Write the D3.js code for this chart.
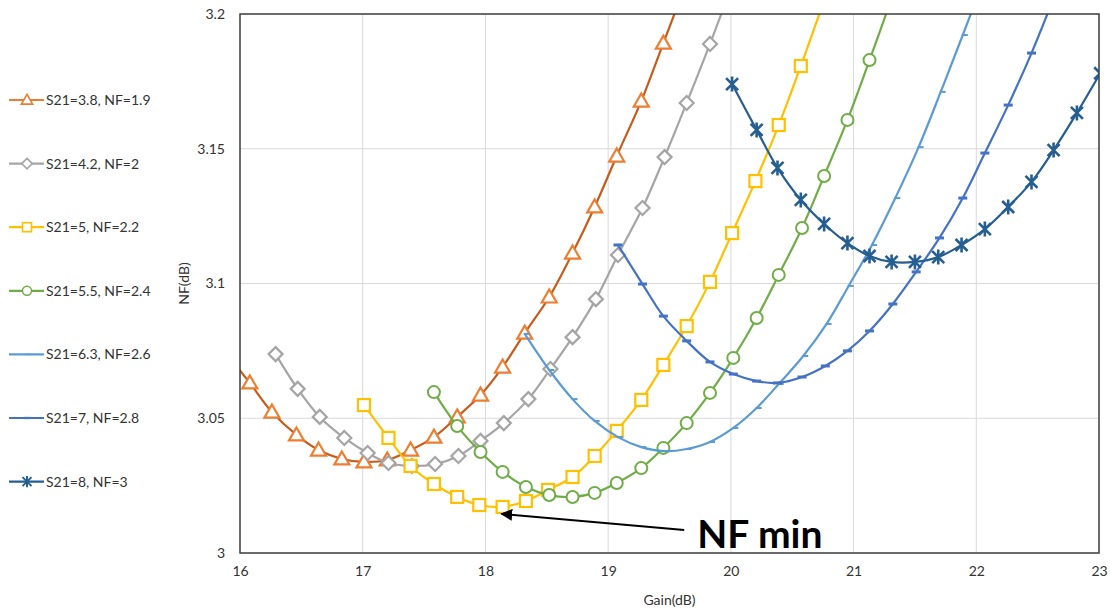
<!DOCTYPE html>
<html>
<head>
<meta charset="utf-8">
<script src="https://cdn.jsdelivr.net/npm/d3@7"></script>
<style>
  body { margin: 0; background: #fff; }
  svg { font-family: Lato, "Open Sans", sans-serif; }
</style>
</head>
<body>
<svg id="chart" width="1110" height="613"></svg>
<script>
// values
const seriesNames = ['S21=3.8, NF=1.9', 'S21=4.2, NF=2', 'S21=5, NF=2.2', 'S21=5.5, NF=2.4',
                     'S21=6.3, NF=2.6', 'S21=7, NF=2.8', 'S21=8, NF=3'];

const gain1 = [15.89, 16.08, 16.26, 16.46, 16.64, 16.83, 17.01, 17.20, 17.39, 17.58, 17.77, 17.96, 18.14, 18.32, 18.52, 18.71, 18.89, 19.07, 19.27, 19.45, 19.64];
const nf1   = [3.074, 3.0631, 3.0523, 3.0438, 3.0382, 3.0349, 3.0338, 3.0345, 3.0382, 3.0430, 3.0505, 3.0586, 3.0690, 3.0816, 3.0950, 3.1113, 3.1284, 3.1473, 3.1677, 3.1892, 3.212];

const gain2 = [16.29, 16.47, 16.65, 16.85, 17.04, 17.21, 17.40, 17.59, 17.78, 17.96, 18.15, 18.35, 18.53, 18.71, 18.90, 19.08, 19.28, 19.46, 19.64, 19.83, 20.02];
const nf2   = [3.0738, 3.0609, 3.0505, 3.0427, 3.0371, 3.0334, 3.0323, 3.0330, 3.0360, 3.0416, 3.0482, 3.0571, 3.0683, 3.0801, 3.0942, 3.1106, 3.1280, 3.1469, 3.1670, 3.1889, 3.212];

const gain3 = [17.01, 17.21, 17.39, 17.58, 17.77, 17.95, 18.14, 18.33, 18.51, 18.71, 18.89, 19.07, 19.27, 19.45, 19.64, 19.83, 20.01, 20.20, 20.39, 20.57, 20.76];
const nf3   = [3.0549, 3.0427, 3.0323, 3.0256, 3.0208, 3.0178, 3.0171, 3.0193, 3.0234, 3.0282, 3.0360, 3.0453, 3.0568, 3.0698, 3.0842, 3.1006, 3.1187, 3.1380, 3.1588, 3.1807, 3.205];

const gain4 = [17.58, 17.77, 17.96, 18.14, 18.33, 18.52, 18.71, 18.89, 19.07, 19.27, 19.45, 19.64, 19.83, 20.02, 20.21, 20.39, 20.58, 20.76, 20.95, 21.13, 21.32];
const nf4   = [3.0597, 3.0471, 3.0375, 3.0301, 3.0245, 3.0215, 3.0208, 3.0223, 3.0260, 3.0315, 3.0390, 3.0482, 3.0594, 3.0724, 3.0872, 3.1032, 3.1206, 3.1399, 3.1607, 3.1829, 3.207];

const gain5 = [18.32, 18.52, 18.71, 18.89, 19.08, 19.27, 19.46, 19.64, 19.83, 20.02, 20.21, 20.39, 20.59, 20.78, 20.96, 21.15, 21.34, 21.53, 21.71, 21.89, 22.08];
const nf5   = [3.0813, 3.0679, 3.0571, 3.0490, 3.0430, 3.0393, 3.0378, 3.0386, 3.0412, 3.0464, 3.0538, 3.0627, 3.0731, 3.0850, 3.0991, 3.1143, 3.1317, 3.1506, 3.1711, 3.1922, 3.215];

const gain6 = [19.08, 19.28, 19.45, 19.64, 19.83, 20.02, 20.21, 20.38, 20.58, 20.77, 20.95, 21.13, 21.32, 21.51, 21.70, 21.89, 22.07, 22.26, 22.45, 22.64];
const nf6   = [3.1143, 3.0998, 3.0879, 3.0787, 3.0709, 3.0664, 3.0638, 3.0631, 3.0653, 3.0694, 3.0750, 3.0824, 3.0924, 3.1043, 3.1169, 3.1317, 3.1484, 3.1662, 3.1855, 3.207];

const gain7 = [20.01, 20.21, 20.38, 20.57, 20.76, 20.95, 21.13, 21.31, 21.50, 21.69, 21.88, 22.07, 22.26, 22.45, 22.63, 22.82, 23.01];
const nf7   = [3.1740, 3.1570, 3.1429, 3.1310, 3.1221, 3.1150, 3.1102, 3.1080, 3.1080, 3.1098, 3.1143, 3.1202, 3.1284, 3.1377, 3.1495, 3.1633, 3.178];

const xTicks = [16, 17, 18, 19, 20, 21, 22, 23];
const yTicks = [3, 3.05, 3.1, 3.15, 3.2];
const yTickLabels = ['3', '3.05', '3.1', '3.15', '3.2'];

// annotation: arrow to the lowest point of the yellow curve
const noteText = 'NF min';
const noteFrom = [19.62, 3.0085];
const noteTo = [18.13, 3.0145];

const allGain = [gain1, gain2, gain3, gain4, gain5, gain6, gain7];
const allNf = [nf1, nf2, nf3, nf4, nf5, nf6, nf7];

const lineColors = ['#C65B1C', '#A5A5A5', '#FFC000', '#70AD47', '#5B9BD5', '#4472C4', '#255E91'];
const markColors = ['#ED7D31', '#A5A5A5', '#FFC000', '#70AD47', '#5B9BD5', '#4472C4', '#255E91'];
const markTypes = ['triangle', 'diamond', 'square', 'circle', 'smalldash', 'dash', 'star'];

const svg = d3.select('#chart');
const pLeft = 240, pRight = 1099, pTop = 14, pBottom = 553;

const x = d3.scaleLinear().domain([16, 23]).range([pLeft, pRight]);
const y = d3.scaleLinear().domain([3, 3.2]).range([pBottom, pTop]);

const defs = svg.append('defs');
defs.append('clipPath').attr('id', 'plotclip')
   .append('rect').attr('x', pLeft).attr('y', pTop)
   .attr('width', pRight - pLeft).attr('height', pBottom - pTop);

// grid
const grid = svg.append('g');
grid.selectAll('.vg').data(xTicks).enter().append('line')
    .attr('x1', d => x(d)).attr('x2', d => x(d))
    .attr('y1', pTop).attr('y2', pBottom)
    .attr('stroke', '#d9d9d9').attr('stroke-width', 1);
grid.selectAll('.hg').data(yTicks).enter().append('line')
    .attr('x1', pLeft).attr('x2', pRight)
    .attr('y1', d => y(d)).attr('y2', d => y(d))
    .attr('stroke', '#d9d9d9').attr('stroke-width', 1);

// axes (labels only, Excel style)
const xAxis = svg.append('g').attr('transform', `translate(0,${pBottom})`)
    .call(d3.axisBottom(x).tickValues(xTicks).tickSize(0).tickPadding(13).tickFormat(d3.format('d')));
const yAxis = svg.append('g').attr('transform', `translate(${pLeft},0)`)
    .call(d3.axisLeft(y).tickValues(yTicks).tickSize(0).tickPadding(15)
          .tickFormat((d, i) => yTickLabels[i]));
[xAxis, yAxis].forEach(a => {
  a.select('.domain').remove();
  a.selectAll('text').attr('font-size', 14).attr('fill', '#333')
   .attr('font-family', 'Lato, sans-serif');
});

// marker shapes
function marker(g, type, color) {
  if (type == 'triangle') {
    g.append('path').attr('d', 'M0,-7.5L7.5,5.5L-7.5,5.5Z')
     .attr('fill', '#fff').attr('stroke', color).attr('stroke-width', 2.2);
  } else if (type == 'diamond') {
    g.append('path').attr('d', 'M0,-7L7,0L0,7L-7,0Z')
     .attr('fill', '#fff').attr('stroke', color).attr('stroke-width', 2.2);
  } else if (type == 'square') {
    g.append('rect').attr('x', -6).attr('y', -6).attr('width', 12).attr('height', 12)
     .attr('fill', '#fff').attr('stroke', color).attr('stroke-width', 2.2);
  } else if (type == 'circle') {
    g.append('circle').attr('r', 6)
     .attr('fill', '#fff').attr('stroke', color).attr('stroke-width', 2);
  } else if (type == 'smalldash') {
    g.append('rect').attr('x', -1).attr('y', -1).attr('width', 6).attr('height', 2)
     .attr('fill', color);
  } else if (type == 'dash') {
    g.append('rect').attr('x', -4.5).attr('y', -1.5).attr('width', 9).attr('height', 3)
     .attr('fill', color);
  } else if (type == 'star') {
    g.append('path').attr('d', 'M-6,-6L6,6M-6,6L6,-6M0,-7.5L0,7.5')
     .attr('fill', 'none').attr('stroke', color).attr('stroke-width', 2.6);
  }
}

const line = d3.line().x(d => x(d[0])).y(d => y(d[1])).curve(d3.curveCatmullRom.alpha(0.5));
const plot = svg.append('g').attr('clip-path', 'url(#plotclip)');

allGain.forEach((gs, i) => {
  const pts = gs.map((g, j) => [g, allNf[i][j]]);
  plot.append('path').datum(pts)
      .attr('d', line)
      .attr('fill', 'none')
      .attr('stroke', lineColors[i])
      .attr('stroke-width', 2.2);
  pts.forEach(p => {
    const g = plot.append('g').attr('transform', `translate(${x(p[0])},${y(p[1])})`);
    marker(g, markTypes[i], markColors[i]);
  });
});

// plot border
svg.append('rect').attr('x', pLeft).attr('y', pTop)
   .attr('width', pRight - pLeft).attr('height', pBottom - pTop)
   .attr('fill', 'none').attr('stroke', '#404040').attr('stroke-width', 1.5);

// axis titles
svg.append('text').attr('x', (pLeft + pRight) / 2).attr('y', 605)
   .attr('text-anchor', 'middle').attr('font-size', 14).attr('fill', '#333')
   .text('Gain(dB)');
svg.append('text').attr('transform', `translate(189,${(pTop + pBottom) / 2}) rotate(-90)`)
   .attr('text-anchor', 'middle').attr('font-size', 14).attr('fill', '#333')
   .text('NF(dB)');

// legend
const legend = svg.append('g');
seriesNames.forEach((name, i) => {
  const ly = 100 + i * 63.6;
  const g = legend.append('g').attr('transform', `translate(0,${ly})`);
  g.append('line').attr('x1', 9).attr('x2', 44).attr('y1', 0).attr('y2', 0)
   .attr('stroke', markColors[i]).attr('stroke-width', 2.2);
  const m = g.append('g').attr('transform', 'translate(27,0) scale(0.75)');
  marker(m, markTypes[i], markColors[i]);
  g.append('text').attr('x', 46).attr('y', 5).attr('font-size', 14).attr('fill', '#333')
   .text(name);
});

// annotation
defs.append('marker').attr('id', 'arrowhead')
   .attr('viewBox', '0 0 10 10').attr('refX', 9).attr('refY', 5)
   .attr('markerWidth', 6).attr('markerHeight', 6).attr('orient', 'auto')
   .append('path').attr('d', 'M0,0L10,5L0,10Z').attr('fill', '#000');
svg.append('line')
   .attr('x1', x(noteFrom[0])).attr('y1', y(noteFrom[1]))
   .attr('x2', x(noteTo[0])).attr('y2', y(noteTo[1]))
   .attr('stroke', '#000').attr('stroke-width', 2)
   .attr('marker-end', 'url(#arrowhead)');
svg.append('text').attr('x', x(noteFrom[0]) + 13).attr('y', y(noteFrom[1]) + 18)
   .attr('font-size', 39).attr('font-weight', 'bold').attr('fill', '#000')
   .text(noteText);
</script>
</body>
</html>
